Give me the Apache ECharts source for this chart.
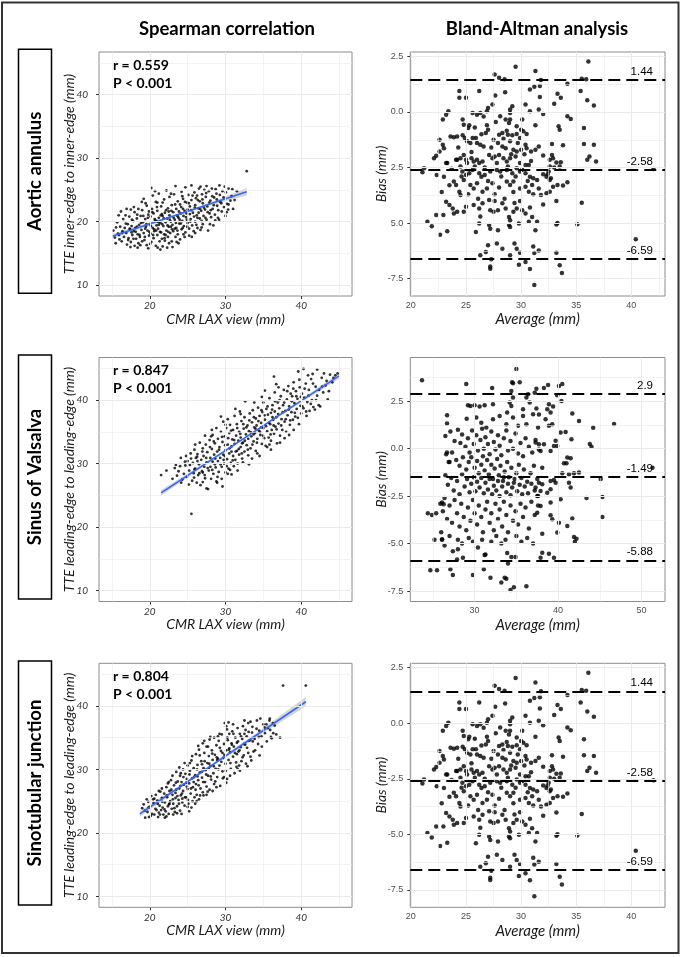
<!DOCTYPE html>
<html>
<head>
<meta charset="utf-8">
<title>Spearman correlation and Bland-Altman analysis</title>
<script src="https://cdn.jsdelivr.net/npm/echarts@6.0.0/dist/echarts.min.js"></script>
<style>
  html, body { margin: 0; padding: 0; background: #fff; }
  #main { width: 685px; height: 957px; }
</style>
</head>
<body>
<div id="main"></div>
<script>
// ---------------- data ----------------
const rowNames = ['Aortic annulus', 'Sinus of Valsalva', 'Sinotubular junction'];
const colTitles = ['Spearman correlation', 'Bland-Altman analysis'];
const corrR = ['0.559', '0.847', '0.804'];
const corrP = 'P < 0.001';
const corrYNames = ['TTE inner-edge to inner-edge (mm)', 'TTE leading-edge to leading-edge (mm)', 'TTE leading-edge to leading-edge (mm)'];

// axis ticks / grid lines
const corrXTicks = [20, 30, 40];
const corrYTicks = [10, 20, 30, 40];
const corrGridX = [15, 20, 25, 30, 35, 40, 45];
const corrGridY = [10, 15, 20, 25, 30, 35, 40, 45];
const baXTicksA = [20, 25, 30, 35, 40];
const baGridXA = [20, 22.5, 25, 27.5, 30, 32.5, 35, 37.5, 40, 42.5];
const baXTicksB = [30, 40, 50];
const baGridXB = [25, 30, 35, 40, 45, 50];
const baYTicks = [2.5, 0, -2.5, -5, -7.5];
const baGridYA = [2.5, 1.25, 0, -1.25, -2.5, -3.75, -5, -6.25, -7.5];
const baGridYB = [3.75, 2.5, 1.25, 0, -1.25, -2.5, -3.75, -5, -6.25, -7.5];
const baYLabelsRow1 = ['2.5', '0.0', '2.5', '5.0', '-7.5'];
const baYLabels = ['2.5', '0.0', '-2.5', '-5.0', '-7.5'];

// limits of agreement
const baLimits1 = [1.44, -2.58, -6.59];
const baLimits2 = [2.9, -1.49, -5.88];

// regression fits and confidence bands
const fit1 = [[15.06, 17.7], [32.8, 24.7]];
const band1X = [15.06, 20, 24, 28, 32.8];
const band1Lo = [17.35, 19.45, 21.1, 22.6, 24.1];
const band1Hi = [18.05, 19.85, 21.36, 23.02, 25.3];
const fit2 = [[21.5, 25.4], [45.0, 43.8]];
const band2X = [21.5, 27, 33, 39, 45];
const band2Lo = [24.95, 29.45, 34.25, 38.9, 43.35];
const band2Hi = [25.85, 29.95, 34.55, 39.3, 44.25];
const fit3 = [[18.7, 23.0], [40.6, 40.65]];
const band3X = [18.7, 24, 28, 34, 40.6];
const band3Lo = [22.55, 27.05, 30.3, 35.0, 39.9];
const band3Hi = [23.45, 27.5, 30.7, 35.65, 41.4];

// aortic annulus: CMR vs TTE
const corr1 = [
[15.2,18.6],[15.4,17.5],[15.5,16.6],[15.7,19.9],[15.8,18.1],[16.0,17.2],[16.1,19.2],[16.3,16.9],[16.4,18.5],[16.5,20.4],[16.6,17.6],[16.7,19.0],[16.8,21.0],[16.9,18.2],[17.0,16.4],[17.1,19.6],[17.2,17.4],[17.3,20.8],[17.4,18.8],[17.5,21.9],[17.5,16.8],[17.6,19.3],[17.7,17.9],[17.8,20.1],[17.9,18.5],[18.0,16.2],[18.0,21.5],[18.1,19.0],[18.2,17.3],[18.3,20.5],[18.4,18.0],[18.5,22.0],[18.5,16.6],[18.6,19.5],[18.7,17.6],[18.8,20.9],[18.9,18.7],[19.0,16.9],[19.0,21.8],[19.1,19.9],[19.2,18.2],[19.3,17.1],[19.4,20.4],[19.5,19.2],[19.6,22.5],[19.6,16.3],[19.7,18.6],[19.8,21.1],[19.8,15.8],[19.9,17.8],[20.0,19.6],[20.1,20.8],[20.1,18.1],[20.2,25.3],[20.2,16.8],[20.3,22.0],[20.4,19.0],[20.5,17.4],[20.5,21.3],[20.6,18.5],[20.7,20.2],[20.8,23.1],[20.8,16.2],[20.9,19.4],[21.0,17.9],[21.0,21.7],[21.1,18.9],[21.2,20.6],[21.2,24.4],[21.3,16.9],[21.4,19.8],[21.5,22.4],[21.5,18.3],[21.6,17.3],[21.7,16.1],[21.7,20.9],[21.8,19.3],[21.9,23.5],[21.9,18.0],[22.0,21.4],[22.0,17.0],[22.1,19.9],[22.2,24.9],[22.2,18.6],[22.3,20.5],[22.4,22.1],[22.4,17.6],[22.5,19.2],[22.6,21.0],[22.6,23.9],[22.7,18.2],[22.8,20.0],[22.9,16.9],[22.9,22.6],[23.0,19.5],[23.1,21.5],[23.1,18.5],[23.2,24.3],[23.3,20.3],[23.4,17.6],[23.4,25.6],[23.5,22.0],[23.5,19.0],[23.6,21.0],[23.7,23.2],[23.7,18.0],[23.8,20.6],[23.9,19.7],[24.0,22.7],[24.0,17.2],[24.1,21.3],[24.2,24.7],[24.2,18.8],[24.3,20.1],[24.4,23.6],[24.4,22.0],[24.5,19.3],[24.6,21.7],[24.7,25.4],[24.7,18.3],[24.8,20.7],[24.9,23.0],[25.0,19.8],[25.0,21.9],[25.1,24.2],[25.2,18.9],[25.3,22.4],[25.4,20.4],[25.5,25.7],[25.5,23.4],[25.6,19.4],[25.7,21.4],[25.8,18.5],[25.9,24.6],[26.0,22.6],[26.0,20.0],[26.1,23.7],[26.2,21.0],[26.3,19.0],[26.4,22.1],[26.5,25.2],[26.6,20.5],[26.6,23.2],[26.7,18.7],[26.8,21.7],[26.9,24.3],[27.0,19.6],[27.0,22.9],[27.1,20.9],[27.2,25.0],[27.3,21.9],[27.4,23.9],[27.5,20.3],[27.6,22.4],[27.7,18.6],[27.8,24.8],[27.9,21.3],[28.0,23.3],[28.1,20.7],[28.2,25.2],[28.3,22.0],[28.4,19.4],[28.5,23.8],[28.6,21.1],[28.8,24.4],[28.9,22.5],[29.0,20.6],[29.2,25.7],[29.3,23.1],[29.5,21.6],[29.6,24.8],[29.8,22.3],[30.0,20.9],[30.2,22.8],[30.4,25.2],[30.4,22.7],[30.8,24.0],[31.2,23.4],[32.8,27.95],[18.4,15.9],[23.0,16.0],[21.4,15.6],[16.2,21.6],[27.5,25.6],[28.7,25.1],[26.0,18.2],[25.2,17.8],[24.6,17.6],[23.8,16.6],[22.3,15.9],[20.4,24.1],[19.2,23.6],[21.0,23.0],[19.9,21.6],[20.9,20.1],[21.6,21.2],[22.8,19.2],[23.3,18.9],[24.1,19.7],[24.9,20.3],[21.2,19.5],[20.6,18.8],[22.1,17.9],[19.4,18.9],[18.3,19.2],[17.6,18.3],[22.5,21.6],[23.7,20.8],[25.3,21.2],[26.3,20.6],
[16.35,18.2],[16.85,19.7],[17.15,17.1],[17.35,18.9],[17.65,20.3],[17.85,17.3],[18.15,18.4],[18.35,21.1],[18.65,17.9],[18.85,19.8],[19.15,20.9],[19.35,17.6],[19.55,19.6],[19.75,20.6],[19.95,18.4],[20.15,19.3],[20.35,21.5],[20.45,17.9],[20.65,20.4],[20.85,18.6],[20.95,22.3],[21.15,19.9],[21.35,18.4],[21.45,21.0],[21.65,19.6],[21.85,20.5],[21.95,17.4],[22.15,21.8],[22.35,19.4],[22.45,18.4],[22.65,20.3],[22.85,21.7],[22.95,18.8],[23.15,20.6],[23.35,22.7],[23.45,19.8],[23.65,18.6],[23.85,21.6],[23.95,20.3],[24.15,22.3],[24.35,19.0],[24.45,20.9],[24.65,23.1],[24.85,21.3],[24.95,19.2],[25.15,22.9],[25.35,20.0],[25.45,21.8],[25.65,24.1],[25.85,20.8],[25.95,22.2],[26.15,19.5],[26.35,23.4],[26.45,21.4],[26.65,22.0],[26.85,20.1],[26.95,23.5],[27.15,22.2],[27.35,20.6],[27.45,24.5],[27.65,21.5],[27.85,23.0],[28.05,21.8],[28.25,24.0],[28.45,22.6],[28.65,20.2],[28.85,23.5],[29.05,21.8],[29.25,24.2],[29.45,22.9],[29.75,23.8],[30.05,24.6],[30.35,21.9],[30.65,23.3],[31.0,22.0],[29.9,25.5],[26.7,25.5],[24.3,24.0],[22.8,24.4],[21.7,23.0],[20.7,24.8],[19.45,22.9],[18.95,23.1],[17.9,22.3],[16.95,22.0],[15.9,21.0],[15.55,19.1],[15.95,17.9],[17.45,16.0],[18.75,16.3],[20.05,16.5],[21.05,15.9],[22.55,16.6],[23.55,16.8],[24.45,18.0],[25.55,17.6],[26.85,19.1],[27.95,19.6],[29.15,20.3],[30.15,21.5],[31.5,24.8],[30.9,25.1],[26.25,24.1]
];

// sinus of Valsalva: CMR vs TTE
const corr2 = [
[21.5,28.2],[22.2,28.9],[23.0,27.6],[23.3,29.3],[23.8,28.8],[24.1,30.9],[24.3,27.5],[24.5,28.4],[24.7,29.7],[24.8,31.2],[24.9,27.9],[25.0,30.4],[25.2,28.9],[25.5,22.1],[25.3,29.8],[25.4,31.6],[25.6,27.3],[25.7,30.1],[25.8,28.5],[25.9,32.2],[26.0,29.2],[26.1,30.9],[26.2,27.0],[26.3,31.5],[26.4,28.2],[26.5,29.9],[26.6,33.3],[26.7,26.6],[26.8,30.6],[26.9,28.8],[27.0,32.4],[27.1,31.2],[27.2,29.5],[27.3,27.7],[27.4,33.0],[27.5,26.1],[27.5,30.2],[27.6,31.8],[27.7,26.0],[27.8,28.9],[27.9,33.7],[28.0,30.9],[28.0,29.5],[28.1,27.6],[28.2,32.3],[28.3,34.5],[28.3,30.3],[28.4,28.4],[28.5,31.4],[28.6,33.2],[28.7,29.4],[28.8,27.2],[28.8,35.6],[28.9,31.9],[29.0,30.4],[29.0,33.9],[29.1,28.7],[29.2,32.6],[29.3,30.9],[29.4,35.0],[29.5,29.5],[29.5,27.6],[29.6,26.4],[29.6,33.4],[29.7,36.6],[29.7,31.4],[29.8,30.0],[29.9,34.3],[30.0,28.6],[30.0,32.1],[30.1,35.6],[30.2,30.7],[30.3,37.0],[30.3,33.0],[30.4,29.2],[30.5,31.6],[30.5,34.8],[30.6,36.1],[30.7,30.1],[30.8,32.7],[30.8,28.3],[30.9,33.8],[31.0,31.2],[31.0,35.3],[31.1,29.6],[31.2,37.5],[31.2,33.1],[31.3,30.6],[31.4,34.4],[31.5,32.0],[31.5,36.2],[31.6,30.0],[31.7,33.6],[31.8,35.0],[31.8,31.4],[31.9,38.2],[32.0,32.6],[32.0,34.1],[32.1,36.7],[32.2,30.8],[32.3,33.3],[32.4,35.5],[32.5,31.9],[32.5,37.3],[32.6,39.8],[32.7,34.6],[32.8,32.9],[32.9,36.0],[33.0,33.9],[33.0,31.3],[33.1,35.1],[33.2,37.9],[33.3,32.4],[33.4,34.3],[33.5,36.5],[33.5,30.8],[33.6,38.4],[33.7,33.5],[33.8,35.7],[33.9,34.8],[34.0,32.0],[34.0,37.1],[34.1,36.0],[34.2,33.9],[34.3,38.8],[34.4,35.2],[34.5,31.2],[34.5,37.5],[34.6,34.5],[34.7,36.4],[34.8,33.1],[34.9,38.1],[35.0,35.6],[35.0,39.6],[35.1,34.0],[35.2,36.9],[35.3,32.8],[35.4,38.6],[35.5,35.1],[35.6,37.7],[35.7,34.1],[35.8,40.3],[35.9,36.2],[36.0,38.0],[36.0,33.6],[36.1,35.3],[36.2,39.2],[36.3,36.9],[36.4,34.7],[36.5,41.2],[36.5,38.2],[36.6,35.8],[36.7,42.5],[36.7,37.3],[36.8,33.2],[36.9,39.6],[37.0,36.3],[37.1,38.7],[37.2,34.4],[37.3,40.6],[37.4,37.0],[37.5,35.3],[37.6,39.2],[37.7,41.6],[37.8,36.6],[37.9,38.3],[38.0,35.0],[38.1,40.1],[38.2,37.6],[38.3,42.2],[38.4,39.0],[38.5,36.1],[38.6,41.0],[38.7,38.1],[38.8,40.6],[38.9,36.9],[39.0,42.8],[39.1,39.5],[39.2,37.4],[39.3,41.4],[39.4,38.6],[39.5,40.2],[39.6,44.5],[39.7,36.2],[39.8,42.0],[39.9,39.1],[40.0,37.9],[40.1,41.0],[40.3,44.9],[40.3,38.7],[40.4,40.4],[40.6,42.6],[40.7,37.5],[40.8,39.7],[41.0,41.6],[41.1,38.3],[41.3,43.3],[41.4,40.0],[41.6,38.9],[41.8,38.5],[41.9,42.1],[42.1,44.8],[42.1,40.7],[42.3,39.2],[42.5,39.0],[42.7,43.5],[42.9,41.2],[43.2,42.3],[43.5,40.1],[43.8,44.0],[44.1,42.8],[44.5,43.9],[44.8,44.2],[43.0,44.2],[41.5,44.1],[40.9,43.9],[37.2,33.3],[35.5,32.6],[33.1,29.9],[31.6,28.9],[30.3,28.4],[38.4,34.5],[36.0,32.2],[28.2,35.3],[27.3,34.4],[26.0,33.0],[29.4,37.4],[31.3,38.6],[34.8,40.5],[37.0,42.0],[27.0,28.6],[26.3,30.4],[25.9,29.1],[28.6,29.9],[29.9,31.2],[30.8,31.9],[32.2,33.2],[33.7,34.6],[34.7,35.7],[36.2,37.3],[24.0,29.6],[23.6,28.1],
[23.45,29.8],[24.15,27.0],[24.65,30.3],[25.15,26.7],[25.45,30.8],[25.85,27.8],[26.25,31.1],[26.55,28.5],[26.95,31.9],[27.25,28.2],[27.45,30.9],[27.65,29.3],[27.95,32.6],[28.25,29.0],[28.45,33.5],[28.65,30.8],[28.95,27.9],[29.15,32.2],[29.35,29.9],[29.55,34.2],[29.75,30.6],[29.95,32.9],[30.15,29.6],[30.35,34.0],[30.55,32.4],[30.75,35.2],[30.95,30.5],[31.15,33.7],[31.35,31.9],[31.55,35.6],[31.75,32.3],[31.95,34.7],[32.15,31.6],[32.35,36.2],[32.55,33.6],[32.75,35.7],[32.95,32.2],[33.15,36.8],[33.35,34.9],[33.55,33.0],[33.75,37.3],[33.95,35.5],[34.15,33.3],[34.35,36.7],[34.55,35.0],[34.75,38.4],[34.95,34.4],[35.15,37.6],[35.35,35.9],[35.55,39.0],[35.75,36.4],[35.95,34.6],[36.15,38.5],[36.35,36.0],[36.55,39.8],[36.75,35.4],[36.95,37.8],[37.15,40.0],[37.35,36.0],[37.55,38.1],[37.75,39.6],[37.95,37.0],[38.15,41.4],[38.35,38.5],[38.55,36.8],[38.75,39.8],[38.95,41.8],[39.15,38.0],[39.35,40.6],[39.55,37.2],[39.75,43.2],[39.95,40.5],[40.15,39.0],[40.45,41.8],[40.65,38.2],[40.95,40.7],[41.25,39.4],[41.55,42.6],[41.95,40.0],[42.35,41.6],[42.75,42.1],[43.35,43.0],[43.65,41.4],[44.25,43.5],[36.4,43.7],[35.2,41.5],[33.8,39.6],[32.0,37.8],[30.0,36.1],[28.1,34.3],[39.0,35.3],[37.8,34.0],[35.8,33.0],[34.2,31.6],[32.3,30.2],[30.6,29.0],[28.9,27.0],[27.0,27.1]
];

// sinotubular junction: CMR vs TTE
const corr3 = [
[19.0,23.9],[19.2,24.5],[19.4,22.4],[19.6,25.3],[19.7,23.3],[19.9,22.5],[20.0,24.1],[20.2,25.8],[20.3,23.0],[20.5,24.7],[20.6,22.9],[20.8,26.0],[20.9,23.6],[21.0,25.1],[21.2,23.2],[21.3,24.3],[21.4,26.5],[21.5,23.6],[21.6,25.5],[21.7,24.0],[21.8,22.9],[21.9,26.2],[22.0,24.8],[22.1,23.4],[22.2,27.2],[22.3,25.6],[22.4,24.2],[22.5,23.0],[22.6,26.6],[22.7,25.0],[22.8,28.3],[22.9,23.8],[23.0,26.0],[23.1,24.6],[23.2,27.5],[23.3,23.3],[23.4,25.5],[23.5,29.6],[23.5,26.8],[23.6,24.2],[23.7,28.1],[23.8,25.2],[23.9,27.0],[24.0,23.5],[24.0,29.0],[24.1,25.9],[24.2,28.0],[24.3,24.8],[24.4,30.0],[24.4,26.6],[24.5,27.6],[24.6,24.3],[24.7,29.3],[24.8,25.6],[24.9,28.5],[25.0,26.9],[25.0,30.6],[25.1,24.6],[25.2,27.8],[25.3,29.8],[25.4,26.2],[25.5,31.4],[25.5,24.0],[25.6,28.6],[25.7,27.2],[25.8,30.2],[25.9,25.6],[26.0,29.1],[26.1,32.4],[26.1,27.7],[26.2,26.0],[26.3,30.7],[26.4,28.3],[26.5,33.1],[26.5,25.3],[26.6,29.5],[26.7,27.0],[26.8,31.3],[26.9,28.7],[27.0,34.1],[27.0,26.4],[27.1,30.2],[27.2,32.6],[27.3,28.0],[27.4,29.9],[27.5,33.6],[27.5,27.3],[27.6,31.0],[27.7,29.0],[27.8,32.1],[27.9,34.7],[27.9,26.8],[28.0,30.5],[28.1,28.4],[28.2,33.0],[28.3,31.5],[28.4,29.4],[28.5,35.0],[28.5,27.7],[28.6,32.3],[28.7,30.1],[28.8,33.8],[28.9,28.8],[29.0,31.7],[29.1,34.5],[29.2,30.6],[29.3,27.4],[29.4,32.9],[29.5,35.5],[29.6,29.7],[29.7,31.8],[29.8,34.0],[29.9,37.3],[30.0,30.9],[30.1,36.8],[30.1,33.0],[30.2,28.5],[30.3,34.6],[30.4,31.5],[30.5,35.6],[30.6,32.7],[30.7,30.1],[30.8,34.1],[30.9,36.0],[31.0,32.0],[31.1,33.6],[31.2,29.4],[31.3,35.0],[31.4,31.1],[31.5,34.2],[31.6,36.5],[31.7,32.8],[31.8,30.6],[31.9,35.6],[32.0,33.5],[32.1,31.3],[32.2,34.8],[32.3,36.8],[32.4,32.2],[32.5,37.7],[32.6,33.9],[32.7,30.9],[32.8,35.2],[33.0,32.6],[33.1,34.5],[33.3,37.5],[33.4,31.4],[33.5,35.8],[33.7,32.8],[33.9,33.0],[34.1,36.4],[34.3,34.0],[34.5,32.2],[34.8,33.6],[35.0,37.1],[35.2,35.7],[35.4,37.1],[35.6,36.5],[35.8,37.7],[36.1,34.9],[36.3,35.7],[36.5,36.9],[37.2,35.0],[37.6,43.2],[40.6,43.2],[35.9,36.2],[31.0,37.1],[30.2,36.3],[29.2,35.6],[28.0,35.1],[27.2,34.5],[26.4,33.7],[25.6,32.1],[24.6,31.0],[23.9,30.3],[22.4,27.8],[21.6,27.0],[20.6,25.4],[19.8,24.9],[21.1,22.5],[22.0,22.4],[23.1,22.9],[24.2,23.0],[25.2,23.4],[26.0,24.6],[27.1,25.9],[28.3,26.6],[29.8,28.8],[30.6,29.0],[31.6,30.1],[32.9,30.5],[33.6,34.4],[34.4,35.1],[23.4,26.3],[24.9,27.3],[26.3,28.9],[27.8,30.1],[28.9,31.5],[29.6,32.6],[30.5,33.3],[31.5,32.4],[32.5,35.6],[26.9,30.8],[25.8,28.0],[24.3,25.4],[22.6,24.6],
[19.35,23.5],[19.85,24.0],[20.15,22.7],[20.45,25.3],[20.75,23.8],[21.05,24.6],[21.35,22.9],[21.65,24.9],[21.95,23.7],[22.25,25.9],[22.55,24.5],[22.85,26.8],[23.05,25.3],[23.25,23.9],[23.45,27.9],[23.65,25.8],[23.85,24.6],[24.05,27.4],[24.25,26.2],[24.45,28.8],[24.65,25.6],[24.85,27.9],[25.05,25.2],[25.25,29.2],[25.45,27.0],[25.65,25.0],[25.85,28.8],[26.05,26.8],[26.25,30.0],[26.45,27.5],[26.65,25.9],[26.85,29.6],[27.05,28.0],[27.25,31.3],[27.45,29.2],[27.65,26.5],[27.85,30.9],[28.05,28.9],[28.25,32.5],[28.45,30.5],[28.65,28.1],[28.85,31.9],[29.05,30.0],[29.25,33.4],[29.45,31.2],[29.65,28.6],[29.85,32.3],[30.05,29.8],[30.25,35.0],[30.45,33.1],[30.65,31.0],[30.85,33.9],[31.05,35.6],[31.25,32.6],[31.45,30.4],[31.65,34.4],[31.85,33.0],[32.05,35.2],[32.25,31.9],[32.45,34.0],[32.65,36.2],[32.85,33.4],[33.05,35.9],[33.25,34.6],[33.55,36.7],[33.85,34.8],[34.15,37.7],[34.45,36.1],[34.75,35.2],[35.15,36.6],[35.45,34.4],[35.85,38.0],[36.25,37.3],[36.7,35.5],[22.2,22.6],[23.6,23.1],[25.0,24.1],[26.2,25.0],[27.5,26.0],[28.8,27.2],[30.1,27.9],[31.9,29.8],[21.2,26.6],[22.5,28.0],[24.1,29.4],[25.3,31.0],[26.6,32.2],[27.7,33.6],[29.0,35.2],[30.4,37.4],[23.0,29.0],[33.0,37.3],[34.6,38.0],[36.0,35.1],[33.3,32.0]
];

// Bland-Altman (average, bias), rows 1 and 3
const ba1 = [
[29.5,2.04],[31.3,1.84],[27.6,1.69],[28.0,1.54],[28.5,1.47],[24.4,0.94],[24.4,0.64],[25.0,0.64],[26.2,0.94],[27.65,0.74],[28.55,0.89],[30.8,1.01],[31.2,1.14],[31.7,1.17],
[23.4,0.03],[23.2,-0.12],[22.9,-0.34],[24.7,-0.34],[25.6,-0.04],[26.0,-0.12],[26.3,-0.04],[27.0,0.18],[27.4,0.34],[26.9,0.03],[29.2,0.26],[29.0,0.11],[29.0,-0.04],[30.4,0.34],[30.8,0.03],[31.6,0.11],[28.1,-0.19],[28.6,-0.34],[29.0,-0.34],[30.1,-0.34],[29.6,-0.64],
[24.8,-0.57],[25.2,-0.72],[25.3,-0.6],[26.9,-0.6],[27.0,-0.8],[26.8,-0.95],[28.0,-1.02],[28.3,-0.95],[28.7,-0.84],[28.8,-1.02],[29.2,-1.05],[29.6,-0.99],[29.9,-1.17],[30.2,-0.87],[30.5,-0.99],
[22.6,-1.25],[22.9,-1.47],[23.0,-1.63],[23.6,-1.1],[23.9,-1.14],[24.2,-1.1],[24.7,-1.05],[24.9,-1.17],[25.1,-1.32],[25.4,-1.4],[25.6,-1.17],[25.9,-1.17],[26.0,-1.4],[26.3,-1.47],[26.6,-1.55],
[27.5,-1.25],[27.9,-1.4],[28.3,-1.55],[28.6,-1.63],[29.0,-1.32],[29.3,-1.7],[29.6,-1.78],[30.0,-1.7],[30.4,-1.47],[30.5,-1.63],[30.9,-1.78],[31.3,-1.7],[31.6,-1.55],
[22.1,-2.08],[22.3,-1.97],[22.6,-1.78],[23.2,-2.3],[24.1,-2.15],[24.2,-2.15],[24.5,-2.08],[24.8,-1.93],[25.0,-2.15],[25.1,-2.3],[25.5,-2.08],[25.7,-2.23],[26.0,-2.15],[26.2,-2.3],[26.5,-2.23],
[27.1,-1.93],[27.4,-2.08],[27.6,-2.0],[28.0,-1.93],[28.4,-2.08],[28.7,-2.23],[29.0,-2.08],[29.5,-2.0],[29.9,-2.3],[30.4,-2.38],[30.7,-2.38],
[21.05,-2.71],[21.2,-2.53],[22.35,-2.83],[23.0,-2.91],[23.3,-2.3],[24.5,-2.45],[24.67,-2.68],[25.0,-2.83],[25.3,-2.76],[25.6,-2.61],
[26.2,-2.76],[26.4,-2.91],[26.7,-2.83],[27.2,-2.68],[27.8,-2.61],[28.1,-2.68],[28.7,-2.61],[29.2,-2.76],[29.6,-2.53],[29.9,-2.68],[30.4,-2.76],[30.8,-2.91],[31.1,-2.98],[31.45,-3.06],
[23.9,-3.13],[24.1,-3.28],[24.4,-3.59],[24.5,-3.74],[24.8,-3.06],[25.4,-3.28],[25.7,-3.44],[26.0,-3.21],[26.5,-3.59],[26.9,-3.44],[27.4,-3.21],
[28.7,-3.13],[29.0,-3.28],[29.3,-3.13],[29.9,-3.44],[30.4,-3.36],[30.7,-3.59],[31.0,-3.28],[31.6,-3.44],
[23.2,-4.04],[23.5,-4.19],[23.8,-4.34],[23.9,-4.57],[24.2,-4.49],[24.8,-4.49],[25.0,-4.26],[25.7,-4.19],[26.2,-4.34],[26.5,-4.11],[27.1,-3.96],[27.2,-4.42],[27.5,-4.49],[27.9,-4.42],
[28.3,-4.11],[28.6,-4.34],[28.9,-4.72],[29.0,-4.87],[29.3,-4.49],[29.6,-4.34],[30.1,-4.42],[30.4,-4.57],[31.0,-4.72],[31.45,-4.94],
[21.5,-4.94],[21.9,-5.14],[22.3,-4.64],[22.95,-4.64],[23.3,-5.37],[22.65,-5.52],
[25.9,-5.4],[26.2,-5.02],[27.1,-5.09],[27.2,-5.25],[27.9,-5.32],[28.9,-5.09],[29.0,-5.17],[29.8,-5.02],[30.7,-4.94],[31.3,-5.32],
[26.3,-6.45],[26.8,-6.3],[27.3,-6.63],[27.2,-6.95],[27.2,-7.05],[27.8,-5.92],[28.3,-6.15],[29.0,-6.45],[29.4,-5.92],[29.6,-6.15],[29.9,-6.33],[29.8,-6.87],[30.4,-6.75],[30.8,-7.06],[31.6,-6.23],[31.2,-7.78],[27.0,-6.0],[31.1,-6.05],[31.2,-6.35],
[36.1,2.27],[35.5,1.5],[35.9,1.47],[31.8,1.44],[34.2,1.27],[31.7,0.67],[33.0,0.37],[33.3,0.82],[33.6,0.64],[35.4,0.94],[36.0,0.53],[36.6,0.29],[32.0,-0.09],[34.2,-0.19],[34.5,-0.31],[33.4,-0.64],[33.5,-0.8],[35.7,-0.72],
[32.8,-1.44],[33.8,-1.5],[35.7,-1.44],[36.6,-1.47],[32.0,-1.96],[32.8,-1.93],[32.9,-2.08],[32.6,-2.15],[36.2,-2.0],[36.0,-2.15],[36.8,-2.23],[33.2,-2.27],[33.6,-2.26],[32.6,-2.45],[33.0,-2.5],[33.5,-2.45],[42.0,-2.56],
[32.0,-2.8],[32.3,-2.91],[32.4,-2.8],[32.7,-2.98],[32.6,-3.06],[32.5,-2.68],[33.3,-3.28],[33.8,-3.31],[34.2,-3.16],[32.9,-3.36],[31.8,-3.74],[32.3,-3.66],[32.6,-3.59],[32.0,-4.16],[33.2,-4.01],[35.5,-4.08],
[33.2,-5.06],[33.3,-4.99],[35.1,-5.05],[40.4,-5.73],[33.2,-6.33],[33.5,-6.9],[33.7,-7.25],
[24.3,-1.6],[24.6,-2.9],[25.2,-3.7],[25.5,-1.8],[25.8,-2.45],[26.1,-3.9],[26.4,-1.0],[26.7,-2.5],[27.0,-3.1],[27.3,-1.6],[27.6,-3.7],[27.8,-2.3],[28.0,-3.4],[28.2,-2.9],[28.4,-1.2],[28.5,-3.9],[28.8,-2.45],[29.1,-1.9],[29.3,-3.6],[29.5,-2.9],[29.7,-1.4],[29.9,-4.0],[30.1,-2.6],[30.3,-1.9],[30.6,-3.1],[30.9,-2.2],[31.1,-3.7],[31.3,-0.6],[30.0,-0.8],[28.9,-0.5],[27.7,-0.45],[26.6,-0.2],[25.8,-0.7],[23.7,-2.55],[23.5,-3.3],[22.8,-3.6],[26.3,-4.7],[27.6,-4.0],[29.4,-4.1],[30.8,-4.3]
];

// Bland-Altman (average, bias), sinus of Valsalva
const ba2 = [
[23.7,3.6],[29.0,3.4],[32.1,3.2],[34.5,3.5],[34.6,3.45],[35.4,3.5],[35.0,4.2],[37.4,3.15],[38.3,3.2],[38.8,3.35],[40.1,3.3],[40.5,3.4],[46.7,1.3],[44.2,1.1],[43.8,0.25],[44.0,0.1],[43.4,-2.6],[45.3,-2.55],[45.3,-3.6],[45.1,-1.6],[51.3,-1.0],[42.5,1.45],[41.7,1.85],[41.6,0.5],[41.5,-0.5],[41.9,-4.65],[42.2,-4.75],[42.0,-4.9],
[39.9,2.81],[40.4,2.51],[38.9,2.34],[39.4,2.22],[38.7,2.07],[39.1,1.9],[37.7,1.8],[38.5,1.55],[39.3,1.28],[38.9,1.2],[40.3,0.85],[40.9,0.88],[39.7,0.41],[37.3,0.32],[37.7,0.23],[38.3,0.23],[37.9,-0.12],[39.1,-0.12],[39.5,0.14],[39.9,0.14],[41.1,-0.47],[40.7,-0.77],[41.0,-0.77],[38.1,-1.0],[40.5,-1.3],[41.3,-1.35],[41.9,-1.3],[42.5,-1.26],
[37.7,-1.79],[38.1,-1.88],[39.5,-1.65],[39.7,-1.79],[39.1,-1.7],[41.3,-1.79],[41.5,-2.05],[37.9,-2.23],[38.7,-2.32],[39.1,-2.14],[37.5,-2.49],[37.3,-2.05],[40.3,-2.67],[39.1,-2.84],[37.9,-3.02],[37.5,-3.37],[39.1,-3.51],[39.3,-3.72],[41.7,-3.68],[41.1,-4.07],[40.1,-3.9],[39.9,-4.42],[38.1,-4.48],[38.1,-5.48],[38.9,-5.53],[39.5,-5.74],[37.9,-5.74],
[29.2,2.29],[29.5,2.25],[30.0,2.29],[30.6,2.22],[31.2,2.29],[32.2,2.34],[33.9,1.9],[34.6,2.69],[34.2,2.43],[34.4,2.25],[36.2,2.69],[36.6,2.43],[35.8,2.07],[37.4,2.11],[34.4,3.04],[36.4,2.86],[37.2,2.95],
[26.7,1.76],[26.7,1.32],[26.5,0.67],[29.05,1.58],[30.2,1.64],[30.8,1.37],[31.4,1.11],[32.2,1.55],[33.0,1.72],[33.8,1.28],[34.6,1.64],[35.2,1.2],[35.8,1.72],[36.2,1.28],[37.0,1.81],[37.6,1.11],
[27.1,0.9],[27.6,0.4],[28.0,1.0],[28.3,0.3],[28.5,0.75],[28.9,0.1],[29.2,0.55],[29.4,-0.2],[29.7,0.95],[29.9,0.25],[30.2,0.7],[30.4,-0.1],[30.7,0.45],[30.9,1.05],[31.1,0.0],[31.3,0.6],[31.6,0.25],[31.8,-0.3],[32.0,0.9],[32.3,0.35],[32.5,-0.05],[32.8,0.7],[33.0,0.15],[33.2,-0.35],[33.5,0.55],[33.8,0.95],[34.0,-0.1],[34.3,0.4],[34.6,0.0],[34.9,0.8],[35.2,-0.25],[35.5,0.3],[35.8,-0.4],[36.1,0.55],[36.5,0.1],[36.9,-0.2],[37.3,0.45],[37.7,-0.05],
[26.6,-0.3],[26.9,-0.7],[27.3,-0.2],[27.8,-0.6],[28.2,-0.9],[28.6,-0.45],[29.0,-1.1],[29.3,-0.7],[29.6,-0.45],[30.0,-1.0],[30.3,-0.65],[30.5,-1.3],[30.8,-0.85],[31.0,-0.4],[31.2,-1.15],[31.5,-0.6],[31.7,-1.35],[32.0,-0.85],[32.2,-1.6],[32.4,-1.05],[32.7,-0.55],[32.9,-1.4],[33.1,-0.9],[33.4,-1.7],[33.6,-1.2],[33.9,-0.7],[34.1,-1.5],[34.4,-1.0],[34.7,-1.8],[35.0,-1.3],[35.3,-0.85],[35.6,-1.55],[35.9,-1.1],[36.3,-1.75],[36.7,-1.3],[37.1,-0.9],[37.5,-1.6],
[26.5,-1.4],[26.8,-1.9],[27.2,-1.55],[27.5,-2.2],[27.9,-1.7],[28.2,-2.4],[28.5,-1.35],[28.8,-2.0],[29.1,-1.6],[29.4,-2.3],[29.6,-1.85],[29.9,-1.5],[30.1,-2.25],[30.3,-1.75],[30.6,-2.05],[30.8,-1.55],[31.1,-2.35],[31.3,-1.8],[31.6,-2.15],[31.8,-1.6],[32.1,-2.4],[32.3,-1.95],[32.6,-2.2],[32.8,-1.7],[33.0,-2.5],[33.3,-2.0],[33.5,-1.5],[33.8,-2.3],[34.0,-1.85],[34.3,-2.45],[34.5,-2.05],[34.8,-1.6],[35.1,-2.25],[35.4,-1.9],[35.7,-2.4],[36.0,-2.0],[36.4,-2.35],[36.8,-1.85],[37.2,-2.2],[37.6,-2.5],
[25.9,-2.9],[26.2,-3.3],[26.4,-2.6],[26.7,-3.7],[27.0,-3.0],[27.3,-3.9],[27.6,-2.7],[27.9,-3.4],[28.2,-4.1],[28.4,-2.9],[28.7,-3.6],[29.0,-4.3],[29.2,-3.1],[29.5,-3.8],[29.8,-2.7],[30.0,-3.4],[30.3,-4.0],[30.5,-3.0],[30.8,-3.6],[31.0,-4.4],[31.3,-3.2],[31.5,-2.8],[31.8,-3.9],[32.0,-3.4],[32.3,-4.3],[32.5,-2.9],[32.8,-3.7],[33.0,-3.2],[33.3,-4.1],[33.5,-2.8],[33.8,-3.5],[34.0,-4.4],[34.3,-3.0],[34.6,-3.8],[34.9,-3.3],[35.2,-4.0],[35.5,-2.9],[35.8,-3.6],[36.1,-3.1],[36.5,-4.2],[36.8,-2.8],[37.2,-3.5],[37.6,-3.0],
[24.9,-3.5],[25.2,-4.8],[26.0,-4.4],[26.4,-5.1],[27.0,-4.6],[27.4,-5.4],[28.0,-4.8],[28.5,-5.0],[29.3,-4.7],[29.8,-4.9],[30.4,-5.2],[30.9,-4.8],[31.2,-5.6],[32.0,-4.9],[32.6,-4.6],[33.2,-5.0],[33.7,-4.8],[34.4,-5.7],[35.0,-4.6],[35.6,-4.9],[36.3,-4.7],[37.0,-5.0],
[26.1,-4.8],[28.0,-5.3],[27.9,-5.84],[28.6,-5.75],[31.3,-5.58],[33.9,-5.5],[34.9,-5.7],[34.0,-6.05],[24.4,-3.4],[25.4,-3.4],[26.1,-2.84],[26.3,-2.93],[26.1,-4.77],[27.0,-0.7],[26.7,-0.2],
[24.7,-6.4],[25.5,-6.4],[27.1,-6.35],[27.4,-6.65],[29.8,-6.65],[31.1,-6.35],[31.9,-6.8],[33.2,-7.05],[33.6,-6.8],[33.8,-6.85],[34.3,-7.45],[34.7,-7.3],[36.2,-7.25]
];

// ---------------- chart ----------------
const chart = echarts.init(document.getElementById('main'));

const FONT = 'Lato, "Open Sans", sans-serif';
const ARIAL = '"Liberation Sans", Arial, sans-serif';
const rowTop = [52, 357.5, 663.3];
const rowH = 244;

const grids = [];
const xAxes = [];
const yAxes = [];
const series = [];
let panelCount = 0;

function labelFor(ticks, labels) {
  return function (v) {
    const k = ticks.findIndex(t => Math.abs(t - v) < 1e-9);
    return k >= 0 ? labels[k] : '';
  };
}

function addGridLines(i, xs, ys, majorX, majorY) {
  const data = [];
  xs.forEach(v => data.push({ xAxis: v, lineStyle: { width: majorX.includes(v) ? 1 : 0.6 } }));
  ys.forEach(v => data.push({ yAxis: v, lineStyle: { width: majorY.includes(v) ? 1 : 0.6 } }));
  series.push({
    type: 'line', xAxisIndex: i, yAxisIndex: i, data: [], z: 1, silent: true,
    markLine: {
      silent: true, symbol: 'none', animation: false,
      label: { show: false },
      lineStyle: { color: '#ebebeb', type: 'solid' },
      data: data
    }
  });
}

function addPanel(p) {
  const i = panelCount++;
  grids.push({
    left: p.left, top: p.top, width: p.width, height: rowH,
    show: true, backgroundColor: '#fff', borderColor: '#8c8c8c', borderWidth: 1,
    containLabel: false, outerBoundsMode: 'none'
  });
  const isCorr = p.kind === 'corr';
  const tickLabel = isCorr
    ? { fontFamily: FONT, fontStyle: 'italic', fontSize: 10, color: '#333' }
    : { fontFamily: ARIAL, fontSize: 9, color: '#4d4d4d' };
  const nameStyle = size => ({ fontFamily: FONT, fontStyle: 'italic', fontSize: size, color: '#1a1a1a' });

  xAxes.push({
    type: 'value', gridIndex: i, min: p.xRange[0], max: p.xRange[1], position: 'bottom',
    name: p.xName, nameLocation: 'middle', nameGap: 16, nameMoveOverlap: false,
    nameTextStyle: nameStyle(isCorr ? 14 : 15),
    axisLine: { show: false }, splitLine: { show: false },
    axisTick: { show: true, length: 3, lineStyle: { color: '#333' }, customValues: p.xTicks },
    axisLabel: Object.assign({ customValues: p.xTicks, margin: 5, formatter: v => String(v) }, tickLabel)
  });
  yAxes.push({
    type: 'value', gridIndex: i, min: p.yRange[0], max: p.yRange[1], position: 'left',
    name: p.yName, nameLocation: 'middle', nameGap: isCorr ? 22.5 : 22, nameMoveOverlap: false,
    nameTextStyle: nameStyle(14),
    axisLine: { show: false }, splitLine: { show: false },
    axisTick: { show: true, length: 3, lineStyle: { color: '#333' }, customValues: p.yTicks },
    axisLabel: Object.assign({ customValues: p.yTicks, margin: isCorr ? 11 : 7, formatter: p.yFmt }, tickLabel)
  });

  addGridLines(i, p.gridX, p.gridY, p.xTicks, p.yTicks);

  if (isCorr) {
    const bx = p.bandX, lo = p.bandLo, hi = p.bandHi;
    series.push({
      type: 'custom', xAxisIndex: i, yAxisIndex: i, z: 2, silent: true,
      data: [[bx[0], lo[0]]],
      renderItem: function (params, api) {
        const pts = [];
        for (let k = 0; k < bx.length; k++) pts.push(api.coord([bx[k], hi[k]]));
        for (let k = bx.length - 1; k >= 0; k--) pts.push(api.coord([bx[k], lo[k]]));
        return { type: 'polygon', shape: { points: pts }, style: { fill: 'rgba(150,150,150,0.4)' } };
      }
    });
    series.push({
      type: 'scatter', xAxisIndex: i, yAxisIndex: i, z: 3, data: p.points,
      symbolSize: 2.8, itemStyle: { color: '#000' }
    });
    series.push({
      type: 'line', xAxisIndex: i, yAxisIndex: i, z: 4, data: p.fit, showSymbol: false, silent: true,
      lineStyle: { color: '#3366FF', width: 1.6 }
    });
  } else {
    series.push({
      type: 'scatter', xAxisIndex: i, yAxisIndex: i, z: 3, data: p.points,
      symbolSize: 4.5, itemStyle: { color: '#000' },
      markLine: {
        silent: true, symbol: 'none', animation: false,
        lineStyle: { color: '#000', width: 2, type: [12, 6] },
        label: {
          show: true, position: 'insideEndTop', distance: [12, 2],
          formatter: m => String(m.value),
          fontFamily: ARIAL, fontSize: 11.5, color: '#000'
        },
        data: p.limits.map(v => ({ yAxis: v }))
      }
    });
  }
}

const corrX = [13.3, 46.7];
const corrY = [8.3, 46.7];
const corrSets = [
  { points: corr1, fit: fit1, bandX: band1X, bandLo: band1Lo, bandHi: band1Hi },
  { points: corr2, fit: fit2, bandX: band2X, bandLo: band2Lo, bandHi: band2Hi },
  { points: corr3, fit: fit3, bandX: band3X, bandLo: band3Lo, bandHi: band3Hi }
];
const baSets = [
  { points: ba1, limits: baLimits1, xRange: [19.95, 43.05], yRange: [-8.28, 2.7], xTicks: baXTicksA, gridX: baGridXA, gridY: baGridYA, yLabels: baYLabelsRow1 },
  { points: ba2, limits: baLimits2, xRange: [22.3, 52.8], yRange: [-8.05, 4.8], xTicks: baXTicksB, gridX: baGridXB, gridY: baGridYB, yLabels: baYLabels },
  { points: ba1, limits: baLimits1, xRange: [19.95, 43.05], yRange: [-8.28, 2.7], xTicks: baXTicksA, gridX: baGridXA, gridY: baGridYA, yLabels: baYLabels }
];

for (let r = 0; r < 3; r++) {
  const c = corrSets[r];
  addPanel({
    kind: 'corr', left: 99, top: rowTop[r], width: 253,
    xRange: corrX, yRange: corrY, xTicks: corrXTicks, yTicks: corrYTicks,
    gridX: corrGridX, gridY: corrGridY,
    xName: 'CMR LAX view (mm)', yName: corrYNames[r], yFmt: v => String(v),
    points: c.points, fit: c.fit, bandX: c.bandX, bandLo: c.bandLo, bandHi: c.bandHi
  });
  const b = baSets[r];
  addPanel({
    kind: 'ba', left: 410.3, top: rowTop[r], width: 254.7,
    xRange: b.xRange, yRange: b.yRange, xTicks: b.xTicks, yTicks: baYTicks,
    gridX: b.gridX, gridY: b.gridY,
    xName: 'Average (mm)', yName: 'Bias (mm)', yFmt: labelFor(baYTicks, b.yLabels),
    points: b.points, limits: b.limits
  });
}

// frame, headers, row labels, correlation notes
const graphics = [
  { type: 'rect', shape: { x: 2, y: 2.5, width: 676.5, height: 950.5 }, style: { fill: 'none', stroke: '#333', lineWidth: 2 }, z: 0 },
  { type: 'text', x: 227, y: 29, style: { text: colTitles[0], font: 'bold 18.5px ' + FONT, fill: '#000', align: 'center', verticalAlign: 'middle' } },
  { type: 'text', x: 537, y: 29, style: { text: colTitles[1], font: 'bold 18.5px ' + FONT, fill: '#000', align: 'center', verticalAlign: 'middle' } }
];
const boxTop = [49.3, 355, 661];
for (let r = 0; r < 3; r++) {
  graphics.push({ type: 'rect', shape: { x: 18.5, y: boxTop[r], width: 33, height: 244 }, style: { fill: 'none', stroke: '#000', lineWidth: 1.5 } });
  graphics.push({
    type: 'text', x: 35, y: boxTop[r] + 122, rotation: Math.PI / 2,
    style: { text: rowNames[r], font: 'bold 18.5px ' + FONT, fill: '#000', align: 'center', verticalAlign: 'middle' }
  });
  graphics.push({ type: 'text', x: 113, y: rowTop[r] + 13, z: 10, style: { text: 'r = ' + corrR[r], font: 'bold 14px ' + FONT, fill: '#000', align: 'left', verticalAlign: 'middle' } });
  graphics.push({ type: 'text', x: 113, y: rowTop[r] + 31, z: 10, style: { text: corrP, font: 'bold 14px ' + FONT, fill: '#000', align: 'left', verticalAlign: 'middle' } });
}

chart.setOption({
  animation: false,
  backgroundColor: '#fff',
  grid: grids,
  xAxis: xAxes,
  yAxis: yAxes,
  series: series,
  graphic: graphics
});
</script>
</body>
</html>
